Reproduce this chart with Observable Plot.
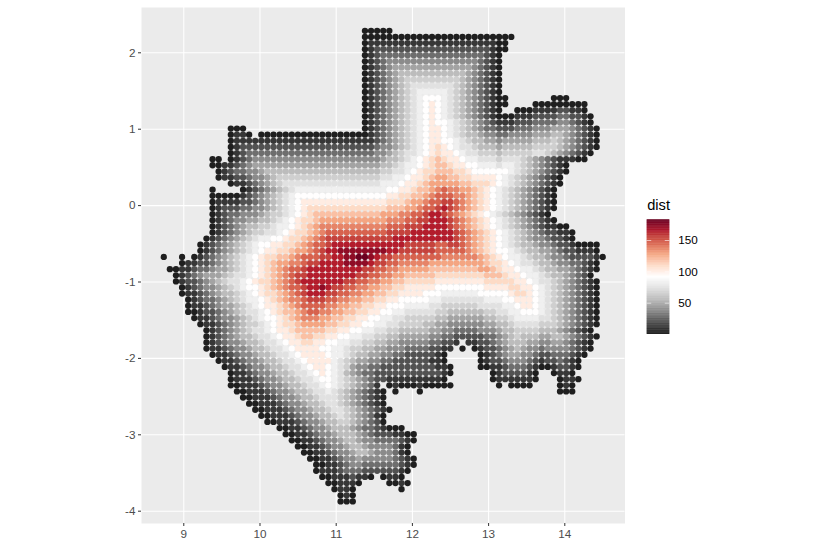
<!DOCTYPE html>
<html><head><meta charset="utf-8">
<script src="https://cdn.jsdelivr.net/npm/d3@7"></script>
<script src="https://cdn.jsdelivr.net/npm/@observablehq/plot@0.6"></script>
<style>
html,body{margin:0;padding:0;background:#fff}
#chart{position:relative;width:829px;height:550px;overflow:hidden}
#chart svg{position:absolute;display:block}
</style></head><body><div id="chart"></div>
<script>
// Every row of the dot grid, north to south: "firstColumn:levels", one base-36 digit per dot.
const gridRows = [
"33:00000",
"33:0000000000000000000000000",
"33:011111111111111111111100",
"33:012222222222222222222100",
"33:01233333333333333333210",
"33:01234444444444444443210",
"33:01234555555555555543210",
"33:01234566666666666543210",
"33:01234567777777776543210",
"33:01234567888888876543210",
"33:01234567899999876543210",
"33:0123456789aaa98765432100 64:000",
"33:0123456789aba98765432100 61:000000000",
"33:0123456789aba9876543210 58:000111122110",
"33:0123456789ab"+"a9876543210"+"001112222332210",
"33:0123456789ab"+"aa987654321"+"112223333443210",
"11:000 33:0123456789ab"+"ba987654332"+"2233344455543210",
"11:0110 16:00000000000000000"+"0123456789ab"+"ba987665443"+"3444455566543210",
"11:0111111111111111111111"+"1123456789ab"+"baa98766554"+"5555566676543210",
"11:0122222222222222222222"+"2234456789ab"+"cba98876665"+"6666677776543210",
"11:0123333333333333333333"+"3344567889ab"+"cbba9887776"+"777778876543210",
"8:00 11:0123444444444444444444"+"444566789abc"+"dcbba998887"+"88876543211100",
"8:0011234555555555555555555"+"555667899abc"+"ddcbbaa9998"+"99876543210",
"9:012334456666666666666666"+"66677889abccd"+"ddccbaaaaaa"+"9876543210",
"9:011223445677777777777777"+"7778899abbcde"+"eddccbbbba"+"9876543210",
"11:0112345678888888888888"+"888999abbcdee"+"eeeddcccba"+"9876543210",
"8:0 13:01234567899999999999"+"9999aabbcddef"+"gffeedcb"+"a9876543210",
"8:00000123456789aaaaaaaaaaa"+"aaaabbccddefg"+"ggffedcb"+"a9876543210",
"8:01111223456789abbbbbbbbbb"+"bbbbcccdeefgg"+"hhgf"+"edcba9876543210",
"8:01222334456789abccccccccc"+"ccccdddeefggh"+"ihgfedcba9876543210",
"8:01233444567789abcddddddd"+"ddddeeeffgghi"+"ihgfedcba9876543210",
"8:0123445566789abccdeeeeeee"+"eeeefffgghhii"+"ihgfedcba9876543210",
"8:0123456677899abcdefffffff"+"ffffggghhhiii"+"ihgfedcba987654321100",
"8:0123456778"+"89abccdefgggggg"+"gggghhhhiiiii"+"iihgfedcba987654322110",
"7:01234567899aabccdefghhhhhh"+"hhhhhiiiiiiii"+"iihgfedcba987654432210",
"6:0123456789aabbccdefgghiiiiii"+"iiiiiihhhhhggh"+"hgfedcba9876654432210000",
"6:0123456789abbccdeefghiij"+"jjjjjjjii"+"hhhhhhggggg"+"fedcbaa987665543221110",
"0:0 3:0 5:0123456789abccddefggghhi"+"ijjkkji"+"hhggggggggffff"+"ffedcba9987665443222210",
"3:011223456789abcdeeffg"+"hhiiiijjjjih"+"hggfffffeeeeeee"+"eedccba98876654433210",
"1:00112334556789abcdefggh"+"iiiiiiiiihhgg"+"ffeeeeedd"+"ddddddeedcbba9987665543210",
"2:0123455567889"+"abcdefghhiii"+"iiiii"+"hhggffeeddd"+"ddcccccccc"+"dddcbba99876654320",
"2:012234567889abccd"+"efghiiiiii"+"ihhgg"+"ffeeddcccc"+"cbbbbbbbb"+"cccccbba"+"98876543210",
"3:01234456789aabcdef"+"gghiijihhggf"+"feeddccbbb"+"bbaaaaaaaa"+"bbbbccbb"+"a9876543210",
"3:011234566789abccdefghii"+"ihhggffeedd"+"ccbbbbaaa99"+"9999aaaaabc"+"cba9876543210",
"4:012334567899abcdeffghh"+"hggffeeddcc"+"bbaaaaa9988"+"88888999aab"+"bba9876543210",
"4:011234556789abbcdefggg"+"gffeeddccbb"+"aaa99998877"+"7777888899a"+"bba9876543210",
"4:0012234567889abcddefgg"+"ffeeddccbba"+"a9988888776"+"66666778899"+"aaa9876543210",
"5:011234456789aabcdefff"+"eeddccbbaa9"+"98877777665"+"55555667789"+"9998876543210",
"6:011234567789abccdee"+"eeddccbbaa99"+"88777766554"+"44444556678"+"8887776543210",
"7:01234567889abbcddd"+"ddccbbaa9988"+"77666665544"+"33334445667"+"777666543210",
"7:012345667889abbcdd"+"ccbbaa998877"+"66555554433"+"22222334567"+"6665566543210",
"7:0123445667889abbccb"+"baa99887766"+"554444433221 50:112234566655445543210",
"7:01123445667889abbbb"+"aa998776655"+"44433332211 49:0 51:01223456544344443210",
"8:01123445667889abbbb"+"a998766554"+"4332222210 52:012345544322333210",
"9:01123445667889abbbb"+"987655443"+"3222222110 52:01223444321223210",
"10:01123445667889abba987544332"+"22222222110 52:00112333210012210",
"11:01123445667889a"+"ba986543322"+"22222222210 54:01222210 64:0110",
"11:011123445667889aa987654322"+"1111111110 54:01111110 65:0110",
"11:0011123445667889a98765431 37:01000100000 55:0 57:0000 65:010",
"12:0011123445667889876543210 38:0 42:0 65:000",
"13:001112344566788876543210",
"14:00111234456678876543210",
"15:00111234456678876543210",
"16:001112344566787654310",
"17:00111234456677654320",
"19:001123445666543321000",
"20:0011234456665432221100",
"21:001123445665443333210",
"22:0011234456654444310",
"23:001123445665444310",
"24:001123445444443210",
"25:00112344333333210",
"25:0111233322222210",
"26:001112110 36:0110",
"27:001110 37:0010",
"28:0110 39:0",
"29:010",
"29:000"
];
const lonOrigin = 8.7375, latOrigin = 2.288, gridStep = 0.08;
const kmBase = 2, kmPerLevel = 9;
const lonTicks = [9,10,11,12,13,14];
const latTicks = [-4,-3,-2,-1,0,1,2];
const legendTicks = [50,100,150];
const paletteColors = ["#1a1a1a","#4d4d4d","#878787","#bababa","#e0e0e0","#ffffff","#fddbc7","#f4a582","#d6604d","#b2182b","#67001f"];
const distMin = 0.1, distMax = 183;

const dots = [];
gridRows.forEach((row, r) => {
  row.split(" ").forEach(seg => {
    const [start, levels] = seg.split(":");
    [...levels].forEach((ch, i) => {
      dots.push({
        lon: lonOrigin + gridStep * (+start + i),
        lat: latOrigin - gridStep * r,
        dist: kmBase + kmPerLevel * parseInt(ch, 36)
      });
    });
  });
});

const colorScale = {
  type: "linear",
  domain: paletteColors.map((_, i) => distMin + (distMax - distMin) * i / (paletteColors.length - 1)),
  range: paletteColors,
  interpolate: "lab"
};
const fontFamily = "'Liberation Sans', Arial, Helvetica, sans-serif";

const main = Plot.plot({
  width: 829, height: 550,
  marginLeft: 141, marginRight: 204.5, marginTop: 7, marginBottom: 27,
  style: {fontFamily, background: "transparent"},
  x: {domain: [8.445, 14.79], label: null},
  y: {domain: [-4.161, 2.593], label: null},
  color: colorScale,
  marks: [
    Plot.frame({fill: "#EBEBEB", stroke: null}),
    Plot.gridX(lonTicks, {stroke: "#fff", strokeOpacity: 1, strokeWidth: 1.07}),
    Plot.gridY(latTicks, {stroke: "#fff", strokeOpacity: 1, strokeWidth: 1.07}),
    Plot.axisX(lonTicks, {tickSize: 3, tickPadding: 3, stroke: "#333", fill: "#4D4D4D", fontSize: 11.7, tickFormat: d => String(d), label: null}),
    Plot.axisY(latTicks, {tickSize: 3, tickPadding: 3, stroke: "#333", fill: "#4D4D4D", fontSize: 11.7, tickFormat: d => String(d), label: null}),
    Plot.dot(dots, {x: "lon", y: "lat", fill: "dist", r: 3.15, stroke: null})
  ]
});
main.style.left = "0"; main.style.top = "0";

const legendSteps = d3.range(0, 183, 1);
const legend = Plot.plot({
  width: 100, height: 150,
  marginLeft: 6.7, marginRight: 70.7, marginTop: 29.3, marginBottom: 6,
  style: {fontFamily, background: "transparent"},
  x: {domain: [0, 1], axis: null},
  y: {domain: [distMin, distMax], axis: null},
  color: colorScale,
  marks: [
    Plot.rect(legendSteps, {x1: 0, x2: 1, y1: d => Math.max(d, distMin), y2: d => Math.min(d + 1.6, distMax), fill: d => d + 0.5}),
    Plot.ruleY(legendTicks, {x1: 0, x2: 0.2, stroke: "#fff", strokeWidth: 0.6}),
    Plot.ruleY(legendTicks, {x1: 0.8, x2: 1, stroke: "#fff", strokeWidth: 0.6}),
    Plot.axisY(legendTicks, {anchor: "right", tickSize: 0, tickPadding: 8.5, stroke: null, fill: "#000", fontSize: 11.7, tickFormat: d => String(d), label: null}),
    Plot.text(["dist"], {frameAnchor: "top-left", dx: 0, dy: -20, text: d => d, fontSize: 14.67, fill: "#000", textAnchor: "start"})
  ]
});
legend.style.left = "640px"; legend.style.top = "190px";

const chart = document.getElementById("chart");
chart.appendChild(main);
chart.appendChild(legend);
</script>
</body></html>
